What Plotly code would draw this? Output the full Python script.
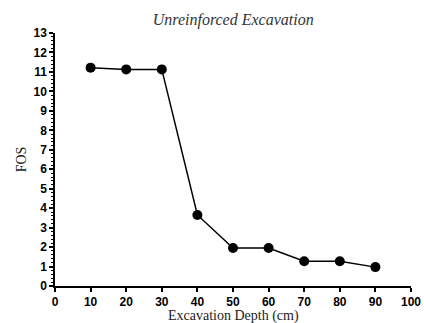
import plotly.graph_objects as go

depth = [10, 20, 30, 40, 50, 60, 70, 80, 90]
fos = [11.22, 11.13, 11.13, 3.65, 1.95, 1.95, 1.27, 1.27, 0.97]

x_ticks = list(range(0, 101, 10))
y_ticks = list(range(0, 14))

fig = go.Figure()
fig.add_trace(go.Scatter(
    x=depth, y=fos, mode="lines+markers",
    line=dict(color="black", width=1.5),
    marker=dict(color="black", size=10),
    showlegend=False,
))

fig.update_layout(
    width=424, height=323,
    margin=dict(l=55, r=13, t=33, b=37),
    paper_bgcolor="white", plot_bgcolor="white",
    title=dict(text="<i>Unreinforced Excavation</i>", x=0.55, xanchor="center", y=0.94, yanchor="middle",
               font=dict(family="Liberation Serif", size=16, color="#333")),
)
fig.add_annotation(
    text="Excavation Depth (cm)", xref="paper", yref="paper", x=0.5, y=-0.119,
    xanchor="center", yanchor="middle", showarrow=False,
    font=dict(family="Liberation Serif", size=14, color="#222"),
)
fig.update_xaxes(
    range=[0, 100], tickvals=x_ticks, ticktext=[str(v) for v in x_ticks],
    automargin=False,
    showgrid=False, zeroline=False, showline=True, linecolor="black", linewidth=1.5,
    ticks="outside", ticklen=4, tickwidth=1.5, tickcolor="black",
    tickfont=dict(family="Liberation Sans", size=12, color="black", weight="bold"),
)
fig.update_yaxes(
    range=[0, 13], tickvals=y_ticks, ticktext=[str(v) for v in y_ticks],
    automargin=False,
    showgrid=False, zeroline=False, showline=True, linecolor="black", linewidth=1.5,
    ticks="outside", ticklen=4, tickwidth=1.5, tickcolor="black",
    minor=dict(dtick=0.2, ticks="outside", ticklen=2, tickwidth=1, tickcolor="black", showgrid=False),
    tickfont=dict(family="Liberation Sans", size=12, color="black", weight="bold"),
    title=dict(text="FOS", standoff=4,
               font=dict(family="Liberation Serif", size=14, color="#222")),
)
fig.write_html("out.html", config={"displayModeBar": False},
               post_script="document.body.style.margin='0';document.body.style.padding='0';")
